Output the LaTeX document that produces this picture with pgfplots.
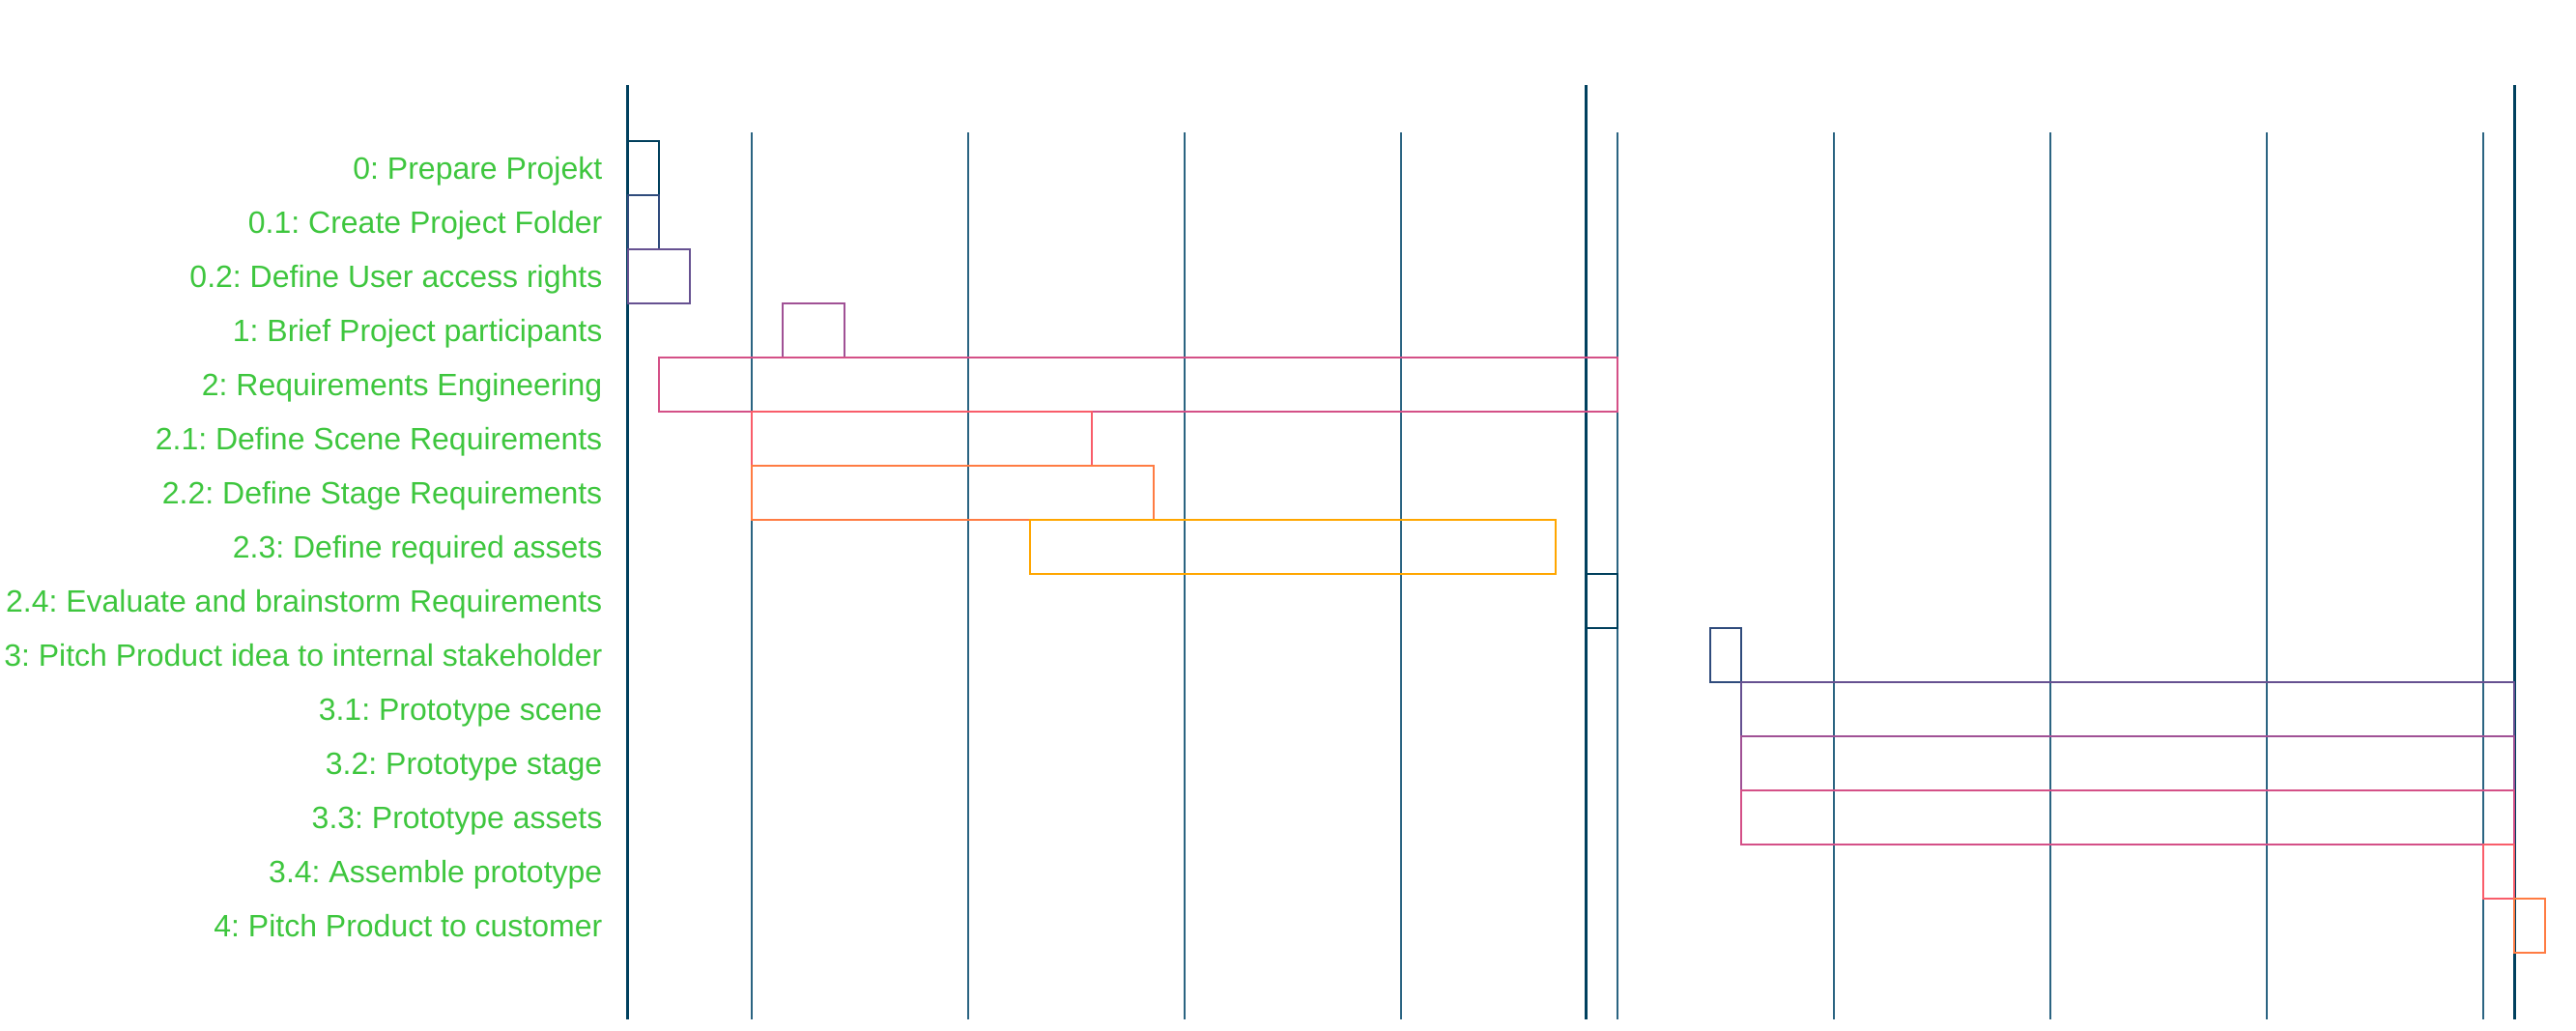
\documentclass[border=0pt]{standalone}
\usepackage{pgfplots}
\pgfplotsset{compat=1.18}
\usepackage{fontspec}
\setmainfont{Liberation Sans}
\frenchspacing
\definecolor{c0}{HTML}{003F5C}
\definecolor{c1}{HTML}{2F4B7C}
\definecolor{c2}{HTML}{665191}
\definecolor{c3}{HTML}{A05195}
\definecolor{c4}{HTML}{D45087}
\definecolor{c5}{HTML}{F95D6A}
\definecolor{c6}{HTML}{FF7C43}
\definecolor{c7}{HTML}{FFA600}
\definecolor{labgreen}{RGB}{62,198,62}
\definecolor{gridc}{HTML}{2B6482}
\definecolor{monthc}{HTML}{00405E}
\begin{document}
\begin{tikzpicture}
\useasboundingbox (-195pt,-3.3pt) rectangle (604.8pt,316.5pt);
\begin{axis}[
  at={(0pt,0pt)}, anchor=south west,
  scale only axis, width=585.6pt, height=290.1pt,
  xmin=0, xmax=61, ymin=-1.0357, ymax=16.232,
  y dir=reverse, clip=false,
  axis line style={draw=none},
  xtick=\empty,
  ytick={0.5,1.5,...,14.5},
  yticklabels={0: Prepare Projekt,0.1: Create Project Folder,0.2: Define User access rights,1: Brief Project participants,2: Requirements Engineering,2.1: Define Scene Requirements,2.2: Define Stage Requirements,2.3: Define required assets,2.4: Evaluate and brainstorm Requirements,3: Pitch Product idea to internal stakeholder,3.1: Prototype scene,3.2: Prototype stage,3.3: Prototype assets,3.4: Assemble prototype,4: Pitch Product to customer},
  major tick length=0pt,
  yticklabel style={anchor=base east, inner sep=0pt, xshift=-7.8pt, yshift=-3.5pt, text=labgreen, font=\fontsize{9.6}{11.5}\selectfont},
]
% week grid lines
\pgfplotsinvokeforeach{4,11,18,25,32,39,46,53,60}{
  \addplot[gridc, line width=0.35pt, mark=none] coordinates {(#1,-0.16) (#1,16.232)};
}
% month lines
\pgfplotsinvokeforeach{0,31,61}{
  \addplot[monthc, line width=0.9pt, mark=none] coordinates {(#1,-1.0357) (#1,16.232)};
}
% task bars (start, end)
\addplot[c0, line width=0.55pt, mark=none] coordinates {(0,0) (1,0) (1,1) (0,1)} --cycle;
\addplot[c1, line width=0.55pt, mark=none] coordinates {(0,1) (1,1) (1,2) (0,2)} --cycle;
\addplot[c2, line width=0.55pt, mark=none] coordinates {(0,2) (2,2) (2,3) (0,3)} --cycle;
\addplot[c3, line width=0.55pt, mark=none] coordinates {(5,3) (7,3) (7,4) (5,4)} --cycle;
\addplot[c4, line width=0.55pt, mark=none] coordinates {(1,4) (32,4) (32,5) (1,5)} --cycle;
\addplot[c5, line width=0.55pt, mark=none] coordinates {(4,5) (15,5) (15,6) (4,6)} --cycle;
\addplot[c6, line width=0.55pt, mark=none] coordinates {(4,6) (17,6) (17,7) (4,7)} --cycle;
\addplot[c7, line width=0.55pt, mark=none] coordinates {(13,7) (30,7) (30,8) (13,8)} --cycle;
\addplot[c0, line width=0.55pt, mark=none] coordinates {(31,8) (32,8) (32,9) (31,9)} --cycle;
\addplot[c1, line width=0.55pt, mark=none] coordinates {(35,9) (36,9) (36,10) (35,10)} --cycle;
\addplot[c2, line width=0.55pt, mark=none] coordinates {(36,10) (61,10) (61,11) (36,11)} --cycle;
\addplot[c3, line width=0.55pt, mark=none] coordinates {(36,11) (61,11) (61,12) (36,12)} --cycle;
\addplot[c4, line width=0.55pt, mark=none] coordinates {(36,12) (61,12) (61,13) (36,13)} --cycle;
\addplot[c5, line width=0.55pt, mark=none] coordinates {(60,13) (61,13) (61,14) (60,14)} --cycle;
\addplot[c6, line width=0.55pt, mark=none] coordinates {(61,14) (62,14) (62,15) (61,15)} --cycle;
\end{axis}
\end{tikzpicture}
\end{document}
